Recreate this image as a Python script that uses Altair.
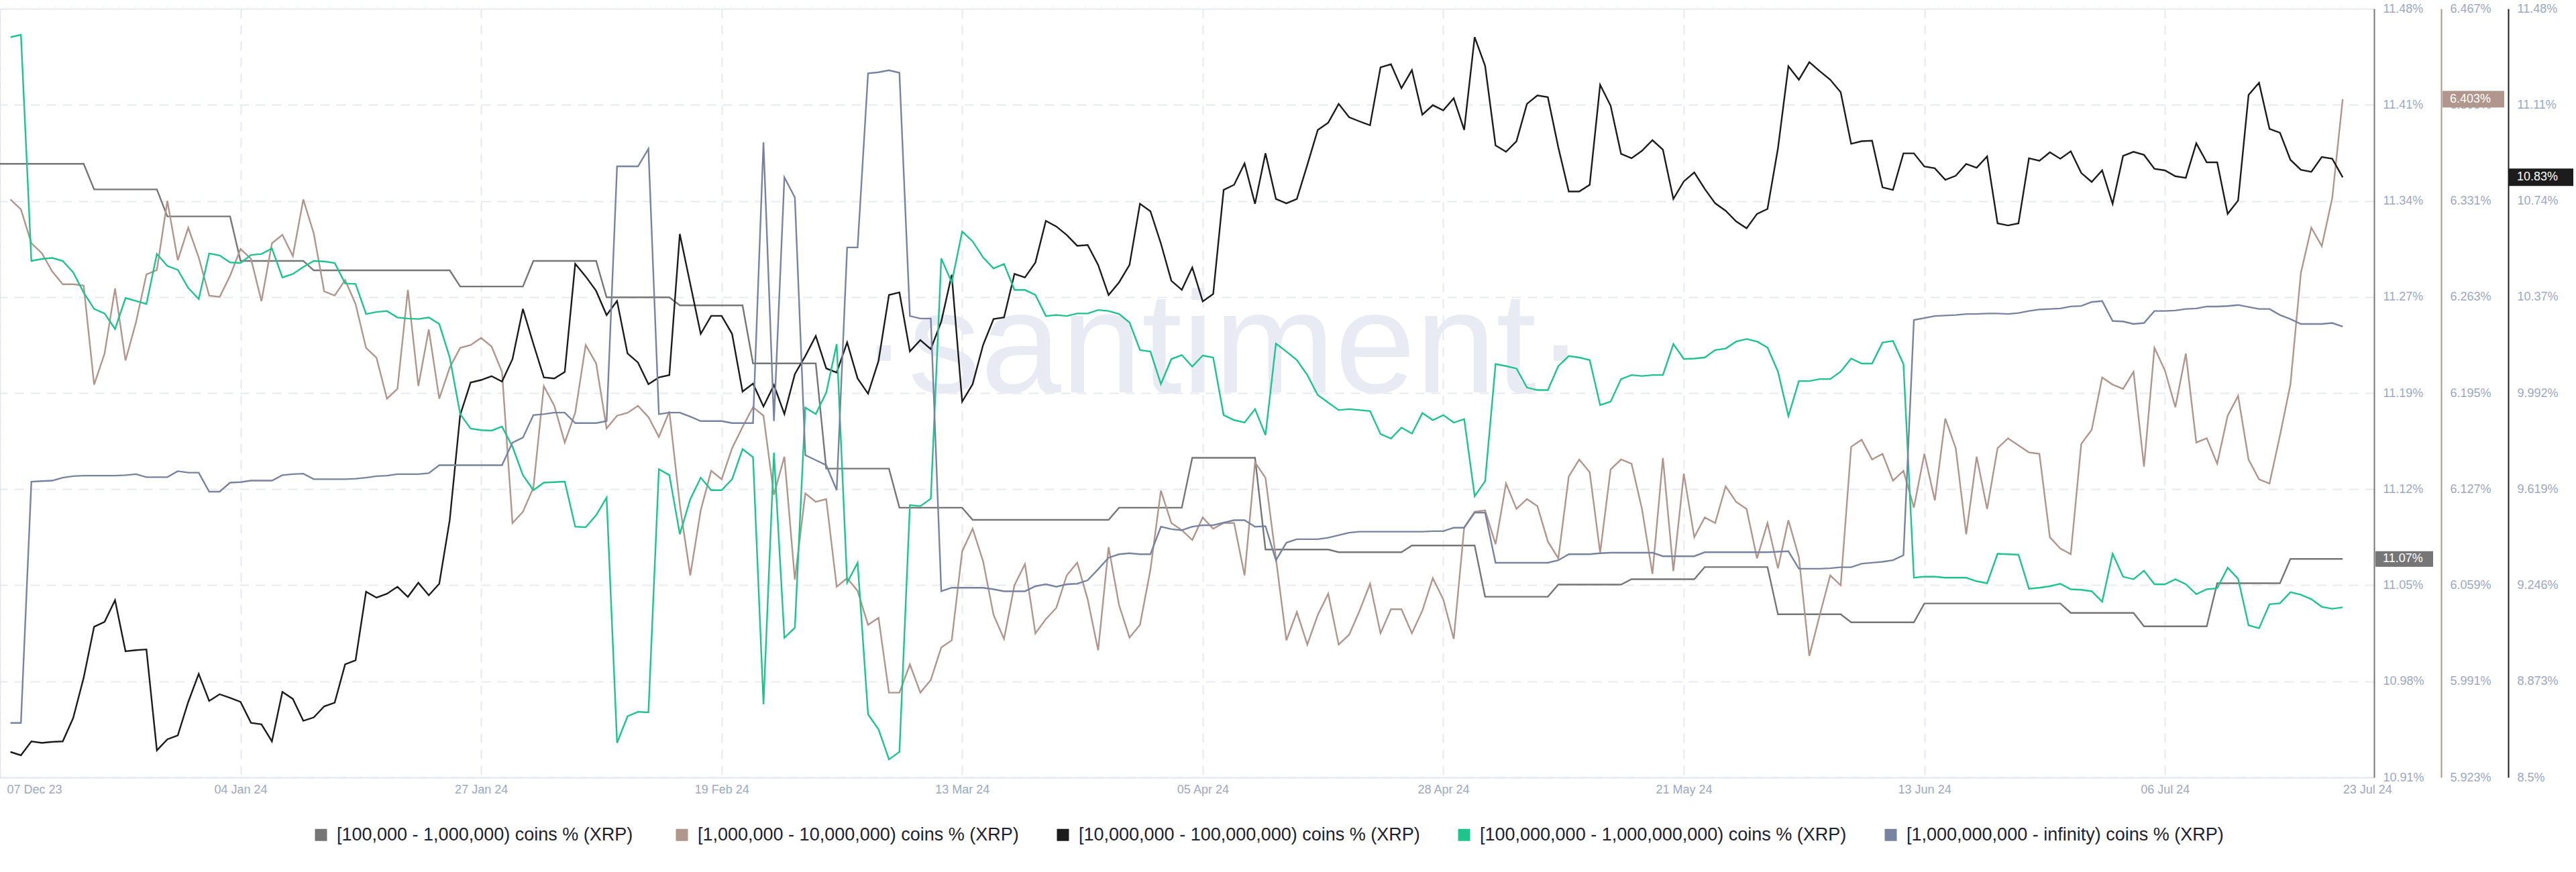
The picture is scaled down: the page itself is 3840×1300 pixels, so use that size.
import altair as alt
import pandas as pd

# ---------------- data ----------------
names = [
    "[100,000  - 1,000,000) coins % (XRP)",
    "[1,000,000 - 10,000,000) coins % (XRP)",
    "[10,000,000 - 100,000,000) coins % (XRP)",
    "[100,000,000 - 1,000,000,000) coins % (XRP)",
    "[1,000,000,000 - infinity) coins % (XRP)",
]
colors = ["#767676", "#b0968c", "#1c1c1c", "#1fc48c", "#77839f"]

dates = [d.strftime("%Y-%m-%d") for d in pd.date_range("2023-12-13", periods=224)]
grey_dates = [d.strftime("%Y-%m-%d") for d in pd.date_range("2023-12-12", periods=225)]

grey_vals = [
    11.364, 11.364, 11.364, 11.364, 11.364, 11.364, 11.364, 11.364, 11.364,
    11.345, 11.345, 11.345, 11.345, 11.345, 11.345, 11.345,
    11.325, 11.325, 11.325, 11.325, 11.325, 11.325, 11.325,
    11.292, 11.292, 11.292, 11.292, 11.292, 11.292, 11.292,
    11.285, 11.285, 11.285, 11.285, 11.285, 11.285, 11.285, 11.285, 11.285, 11.285, 11.285, 11.285, 11.285, 11.285,
    11.273, 11.273, 11.273, 11.273, 11.273, 11.273, 11.273,
    11.292, 11.292, 11.292, 11.292, 11.292, 11.292, 11.292,
    11.265, 11.265, 11.265, 11.265, 11.265, 11.265, 11.265,
    11.259, 11.259, 11.259, 11.259, 11.259, 11.259, 11.259,
    11.216, 11.216, 11.216, 11.216, 11.216, 11.216, 11.216,
    11.138, 11.138, 11.138, 11.138, 11.138, 11.138, 11.138,
    11.109, 11.109, 11.109, 11.109, 11.109, 11.109, 11.109,
    11.100, 11.100, 11.100, 11.100, 11.100, 11.100, 11.100, 11.100, 11.100, 11.100, 11.100, 11.100, 11.100, 11.100,
    11.109, 11.109, 11.109, 11.109, 11.109, 11.109, 11.109,
    11.146, 11.146, 11.146, 11.146, 11.146, 11.146, 11.146,
    11.078, 11.078, 11.078, 11.078, 11.078, 11.078, 11.078,
    11.076, 11.076, 11.076, 11.076, 11.076, 11.076, 11.076,
    11.081, 11.081, 11.081, 11.081, 11.081, 11.081, 11.081,
    11.043, 11.043, 11.043, 11.043, 11.043, 11.043, 11.043,
    11.052, 11.052, 11.052, 11.052, 11.052, 11.052, 11.052,
    11.056, 11.056, 11.056, 11.056, 11.056, 11.056, 11.056,
    11.065, 11.065, 11.065, 11.065, 11.065, 11.065, 11.065,
    11.030, 11.030, 11.030, 11.030, 11.030, 11.030, 11.030,
    11.024, 11.024, 11.024, 11.024, 11.024, 11.024, 11.024,
    11.038, 11.038, 11.038, 11.038, 11.038, 11.038, 11.038, 11.038, 11.038, 11.038, 11.038, 11.038, 11.038, 11.038,
    11.031, 11.031, 11.031, 11.031, 11.031, 11.031, 11.031,
    11.021, 11.021, 11.021, 11.021, 11.021, 11.021, 11.021,
    11.053, 11.053, 11.053, 11.053, 11.053, 11.053, 11.053,
    11.071, 11.071, 11.071, 11.071, 11.071, 11.071,
]

brown_vals = [
    6.332, 6.325, 6.301, 6.294, 6.281, 6.272, 6.272, 6.271, 6.201, 6.223, 6.269, 6.218, 6.245, 6.279, 6.282,
    6.331, 6.289, 6.312, 6.291, 6.264, 6.263, 6.278, 6.297, 6.290, 6.260, 6.301, 6.307, 6.292, 6.332, 6.308,
    6.267, 6.264, 6.275, 6.258, 6.227, 6.220, 6.191, 6.198,
    6.268, 6.200, 6.240, 6.191, 6.213, 6.227, 6.229, 6.234, 6.228, 6.210, 6.103, 6.111, 6.128, 6.200, 6.186,
    6.160, 6.181, 6.229, 6.216, 6.170, 6.179, 6.181, 6.186, 6.178, 6.164, 6.182, 6.116, 6.066, 6.112, 6.140,
    6.134, 6.156, 6.171, 6.185, 6.179, 6.123, 6.150,
    6.063, 6.124, 6.118, 6.120, 6.058, 6.064, 6.055, 6.031, 6.036, 5.983, 5.983, 6.003, 5.983, 5.992, 6.015,
    6.020, 6.083, 6.099, 6.076, 6.038, 6.021, 6.059, 6.074, 6.025, 6.035, 6.043, 6.066, 6.075, 6.049, 6.013,
    6.086, 6.045, 6.022, 6.031, 6.070, 6.126, 6.103,
    6.098, 6.091, 6.107, 6.099, 6.103, 6.103, 6.066, 6.146, 6.135, 6.078, 6.020, 6.040, 6.017, 6.038, 6.053,
    6.017, 6.024, 6.041, 6.060, 6.025, 6.042, 6.042, 6.025, 6.041, 6.064, 6.049, 6.021, 6.100, 6.111, 6.112,
    6.088, 6.131, 6.113, 6.120, 6.115, 6.090, 6.078,
    6.136, 6.148, 6.139, 6.082, 6.141, 6.148, 6.145, 6.113, 6.067, 6.149, 6.069, 6.138, 6.093, 6.107, 6.103,
    6.129, 6.118, 6.113, 6.078, 6.103, 6.071, 6.105, 6.079, 6.009, 6.038, 6.066, 6.059, 6.157, 6.162, 6.148,
    6.152, 6.133, 6.140, 6.114, 6.152, 6.119, 6.177,
    6.156, 6.095, 6.150, 6.113, 6.156, 6.163, 6.158, 6.153, 6.152, 6.093, 6.085, 6.081, 6.159, 6.169, 6.206,
    6.201, 6.198, 6.210, 6.143, 6.227, 6.211, 6.185, 6.223, 6.160, 6.163, 6.145, 6.179, 6.193, 6.148, 6.134,
    6.131, 6.165, 6.201, 6.280, 6.312, 6.299, 6.333, 6.403,
]

black_vals = [
    8.599, 8.586, 8.640, 8.634, 8.638, 8.640, 8.731, 8.887, 9.085, 9.104, 9.188, 8.990, 8.994, 8.997, 8.605,
    8.648, 8.663, 8.793, 8.902, 8.797, 8.823, 8.809, 8.793, 8.712, 8.706, 8.640, 8.832, 8.805, 8.720, 8.733,
    8.776, 8.790, 8.939, 8.955, 9.221, 9.198, 9.213, 9.240,
    9.201, 9.256, 9.207, 9.252, 9.499, 9.907, 10.033, 10.043, 10.058, 10.037, 10.124, 10.319, 10.183, 10.053,
    10.049, 10.074, 10.494, 10.445, 10.389, 10.295, 10.350, 10.146, 10.111, 10.027, 10.053, 10.062, 10.610,
    10.416, 10.222, 10.292, 10.292, 10.222, 9.998, 10.029, 9.940, 10.023, 9.911,
    10.066, 10.136, 10.214, 10.088, 10.072, 10.189, 10.049, 9.990, 10.117, 10.373, 10.383, 10.154, 10.198,
    10.163, 10.270, 10.451, 9.959, 10.027, 10.179, 10.280, 10.286, 10.455, 10.441, 10.499, 10.661, 10.639,
    10.606, 10.564, 10.567, 10.490, 10.373, 10.422, 10.490, 10.727, 10.698, 10.573, 10.428,
    10.393, 10.480, 10.348, 10.377, 10.781, 10.801, 10.884, 10.727, 10.923, 10.746, 10.729, 10.746, 10.878,
    11.014, 11.042, 11.115, 11.063, 11.047, 11.032, 11.257, 11.269, 11.176, 11.246, 11.073, 11.110, 11.090,
    11.137, 11.014, 11.374, 11.263, 10.954, 10.929, 10.970, 11.115, 11.148, 11.141, 10.946,
    10.775, 10.775, 10.801, 11.189, 11.108, 10.921, 10.904, 10.933, 10.974, 10.937, 10.746, 10.814, 10.849,
    10.785, 10.729, 10.700, 10.659, 10.632, 10.688, 10.707, 10.942, 11.261, 11.209, 11.277, 11.242, 11.209,
    11.160, 10.960, 10.970, 10.972, 10.791, 10.781, 10.923, 10.923, 10.872, 10.865, 10.820,
    10.836, 10.882, 10.867, 10.911, 10.651, 10.643, 10.651, 10.904, 10.894, 10.927, 10.902, 10.931, 10.847,
    10.812, 10.857, 10.727, 10.913, 10.929, 10.917, 10.863, 10.857, 10.834, 10.828, 10.962, 10.888, 10.888,
    10.688, 10.740, 11.150, 11.197, 11.018, 11.003, 10.898, 10.859, 10.851, 10.909, 10.902, 10.830,
]

green_vals = [
    19.543, 19.548, 19.096, 19.100, 19.102, 19.096, 19.073, 19.033, 19.000, 18.991, 18.960, 19.022, 19.016,
    19.010, 19.110, 19.086, 19.078, 19.042, 19.020, 19.111, 19.107, 19.093, 19.092, 19.108, 19.110, 19.121,
    19.063, 19.070, 19.084, 19.096, 19.095, 19.092, 19.051, 19.050, 18.990, 18.994, 18.996, 18.983,
    18.981, 18.980, 18.983, 18.970, 18.903, 18.790, 18.761, 18.758, 18.757, 18.765, 18.725, 18.668, 18.638,
    18.653, 18.654, 18.655, 18.565, 18.564, 18.588, 18.623, 18.133, 18.186, 18.195, 18.194, 18.680, 18.668,
    18.550, 18.620, 18.663, 18.638, 18.638, 18.660, 18.720, 18.704, 18.210, 18.713, 18.343,
    18.363, 18.803, 18.790, 18.833, 18.930, 18.453, 18.493, 18.190, 18.160, 18.100, 18.115, 18.608, 18.606,
    18.621, 19.101, 19.053, 19.155, 19.135, 19.103, 19.081, 19.090, 19.038, 19.038, 19.028, 18.986, 18.988,
    18.986, 18.991, 18.991, 18.998, 18.996, 18.990, 18.973, 18.918, 18.915, 18.850, 18.900,
    18.908, 18.885, 18.907, 18.903, 18.788, 18.778, 18.773, 18.800, 18.748, 18.931, 18.915, 18.898, 18.868,
    18.828, 18.813, 18.798, 18.800, 18.798, 18.796, 18.750, 18.741, 18.763, 18.751, 18.792, 18.778, 18.788,
    18.773, 18.780, 18.626, 18.656, 18.890, 18.886, 18.881, 18.843, 18.838, 18.838, 18.886,
    18.906, 18.903, 18.898, 18.808, 18.815, 18.860, 18.868, 18.866, 18.868, 18.868, 18.930, 18.900, 18.901,
    18.903, 18.918, 18.921, 18.935, 18.940, 18.935, 18.923, 18.875, 18.786, 18.856, 18.856, 18.860, 18.860,
    18.875, 18.901, 18.891, 18.891, 18.933, 18.936, 18.890, 18.463, 18.465, 18.465, 18.463,
    18.463, 18.463, 18.456, 18.452, 18.511, 18.510, 18.509, 18.441, 18.443, 18.446, 18.451, 18.440, 18.439,
    18.436, 18.415, 18.511, 18.465, 18.460, 18.477, 18.450, 18.450, 18.460, 18.450, 18.430, 18.440, 18.442,
    18.483, 18.461, 18.368, 18.362, 18.410, 18.412, 18.434, 18.429, 18.420, 18.405, 18.401, 18.404,
]

slate_vals = [
    60.573, 60.573, 61.055, 61.056, 61.057, 61.063, 61.066, 61.067, 61.067, 61.067, 61.067, 61.068, 61.070,
    61.064, 61.064, 61.064, 61.076, 61.073, 61.073, 61.035, 61.035, 61.053, 61.054, 61.057, 61.057, 61.057,
    61.068, 61.070, 61.071, 61.060, 61.060, 61.060, 61.060, 61.061, 61.063, 61.066, 61.067, 61.070,
    61.070, 61.070, 61.072, 61.088, 61.088, 61.088, 61.088, 61.088, 61.088, 61.088, 61.133, 61.143, 61.188,
    61.190, 61.193, 61.193, 61.172, 61.172, 61.172, 61.176, 61.685, 61.685, 61.685, 61.720, 61.190, 61.193,
    61.193, 61.185, 61.176, 61.176, 61.176, 61.172, 61.172, 61.172, 61.733, 61.176, 61.663,
    61.623, 61.108, 61.098, 61.088, 61.038, 61.523, 61.523, 61.871, 61.873, 61.877, 61.872, 61.386, 61.381,
    61.381, 60.836, 60.843, 60.843, 60.843, 60.843, 60.840, 60.836, 60.836, 60.836, 60.846, 60.850, 60.845,
    60.850, 60.851, 60.858, 60.880, 60.903, 60.910, 60.912, 60.910, 60.910, 60.965, 60.960,
    60.958, 60.965, 60.968, 60.968, 60.973, 60.978, 60.978, 60.965, 60.966, 60.898, 60.933, 60.940, 60.940,
    60.940, 60.943, 60.948, 60.953, 60.955, 60.955, 60.955, 60.955, 60.955, 60.955, 60.955, 60.956, 60.956,
    60.963, 60.963, 60.993, 60.993, 60.893, 60.893, 60.893, 60.893, 60.893, 60.893, 60.898,
    60.910, 60.910, 60.910, 60.912, 60.913, 60.913, 60.913, 60.913, 60.913, 60.906, 60.906, 60.906, 60.906,
    60.914, 60.914, 60.914, 60.914, 60.914, 60.914, 60.914, 60.915, 60.916, 60.881, 60.881, 60.881, 60.882,
    60.884, 60.884, 60.891, 60.893, 60.895, 60.898, 60.908, 61.378, 61.382, 61.386, 61.387,
    61.388, 61.390, 61.390, 61.391, 61.391, 61.390, 61.392, 61.396, 61.399, 61.400, 61.401, 61.405, 61.406,
    61.414, 61.416, 61.376, 61.375, 61.370, 61.372, 61.396, 61.396, 61.397, 61.400, 61.401, 61.405, 61.405,
    61.406, 61.408, 61.404, 61.400, 61.400, 61.388, 61.380, 61.370, 61.370, 61.370, 61.372, 61.365,
]

# axis domains / tick labels
grey_domain = [10.909, 11.479]
brown_domain = [5.923, 6.467]
black_domain = [8.5, 11.4845]
green_domain = [18.064, 19.600]
slate_domain = [60.464, 62.000]
x_first_label = "07 Dec 23"

# ---------------- layout ----------------
W, H = 3539, 1146
LABEL_C = "#9ca8c3"
GRID_C = "#e7eaf3"
FONT = "Liberation Sans"

xscale = alt.Scale(
    type="utc",
    domain=[alt.DateTime(year=2023, month=12, date=12, utc=True),
            alt.DateTime(year=2024, month=7, date=26, utc=True)],
)
x_ticks = [
    alt.DateTime(year=2023, month=12, date=12, utc=True),
    alt.DateTime(year=2024, month=1, date=4, utc=True),
    alt.DateTime(year=2024, month=1, date=27, utc=True),
    alt.DateTime(year=2024, month=2, date=19, utc=True),
    alt.DateTime(year=2024, month=3, date=13, utc=True),
    alt.DateTime(year=2024, month=4, date=5, utc=True),
    alt.DateTime(year=2024, month=4, date=28, utc=True),
    alt.DateTime(year=2024, month=5, date=21, utc=True),
    alt.DateTime(year=2024, month=6, date=13, utc=True),
    alt.DateTime(year=2024, month=7, date=6, utc=True),
    alt.DateTime(year=2024, month=7, date=23, utc=True),
]
FIRST_T = 1702400000000
LAST_T = 1721600000000
xaxis = alt.Axis(
    values=x_ticks,
    labelExpr=f"datum.value < {FIRST_T} ? '{x_first_label}' : utcFormat(datum.value, '%d %b %y')",
    labelAlign={"condition": {"test": f"datum.value < {FIRST_T} || datum.value > {LAST_T}", "value": "left"},
                "value": "center"},
    labelOffset={"condition": {"test": f"datum.value < {FIRST_T}", "value": 10}, "value": 0},
    gridOpacity={"condition": {"test": f"datum.value > {LAST_T}", "value": 0}, "value": 1},
    grid=True, gridColor=GRID_C, gridDash=[14, 10], gridWidth=2,
    ticks=False, domainColor="#e3e7f1", domainWidth=2,
    labelColor=LABEL_C, labelFontSize=18, labelFont=FONT, labelPadding=9,
    labelBaseline="top", title=None,
)


def y_axis(color, values, fmt, offset, grid):
    return alt.Axis(
        orient="right", offset=offset, values=values,
        labelExpr=f"format(datum.value, '{fmt}') + '%'",
        domainColor=color, domainWidth=2, ticks=False,
        grid=grid, gridColor=GRID_C, gridDash=[14, 10], gridWidth=2,
        labelColor=LABEL_C, labelFontSize=18, labelFont=FONT, labelPadding=13,
        labelAlign="left", labelBaseline="middle", title=None,
    )


def ticks_for(domain):
    step = (domain[1] - domain[0]) / 8
    return [domain[0] + k * step for k in range(9)]


color_scale = alt.Scale(domain=names, range=colors)


def series_layer(k, ds, vals, domain, axis, box=None):
    df = pd.DataFrame({"date": ds, "value": vals, "series": names[k]})
    yenc = alt.Y("value:Q", scale=alt.Scale(domain=domain, zero=False, nice=False), axis=axis)
    line = alt.Chart(df).mark_line(strokeWidth=2.4, color=colors[k]).encode(
        x=alt.X("date:T", scale=xscale, axis=xaxis),
        y=yenc,
    )
    if box is None:
        return line
    cx, bw, tx = box
    last = df.tail(1)
    rect = alt.Chart(last).mark_point(
        shape="M-1,-0.27L1,-0.27L1,0.27L-1,0.27Z", filled=True, opacity=1,
        size=bw * bw, color=colors[k], strokeWidth=0,
    ).encode(x=alt.value(cx), y=yenc)
    txt = alt.Chart(last).transform_calculate(
        lbl="format(datum.value, '.4~r') + '%'"
    ).mark_text(
        align="left", baseline="middle", color="white", fontSize=18, font=FONT,
    ).encode(x=alt.value(tx), y=yenc, text="lbl:N")
    return alt.layer(line, rect, txt)


grey = series_layer(0, grey_dates, grey_vals, grey_domain,
                    y_axis(colors[0], ticks_for(grey_domain), ".2f", 0, True),
                    box=(3584, 86, 3552))
brown = series_layer(1, dates, brown_vals, brown_domain,
                     y_axis(colors[1], ticks_for(brown_domain), ".3f", 100, False),
                     box=(3687, 92, 3652))
black = series_layer(2, dates, black_vals, black_domain,
                     y_axis(colors[2], ticks_for(black_domain), ".4~r", 200, False),
                     box=(3788, 96, 3752))
green = series_layer(3, dates, green_vals, green_domain, None)
slate = series_layer(4, dates, slate_vals, slate_domain, None)

watermark = alt.Chart(pd.DataFrame({"t": ["\u00b7santiment\u00b7"]})).mark_text(
    align="center", baseline="alphabetic", fontSize=216, font=FONT, color="#e8ebf4",
).encode(x=alt.value(1822), y=alt.value(572), text="t:N")

legend_layer = alt.Chart(pd.DataFrame({"series": names})).transform_filter("false").mark_square(
    filled=True, opacity=1
).encode(
    color=alt.Color(
        "series:N", scale=color_scale,
        legend=alt.Legend(
            orient="none", legendX=465, legendY=1218, direction="horizontal", columns=5,
            symbolType="square", symbolSize=324, symbolStrokeWidth=0, symbolOpacity=1,
            labelFontSize=27, labelFont=FONT, labelColor="#1d2233", labelLimit=2000,
            columnPadding=52, labelOffset=10, title=None,
        ),
    )
)

chart = alt.layer(
    watermark, grey, brown, black, green, slate, legend_layer
).resolve_scale(y="independent").properties(
    width=W, height=H,
    autosize=alt.AutoSizeParams(type="none"),
    padding={"left": 0, "top": 13, "right": 3840 - W, "bottom": 1300 - 13 - H},
).configure_view(stroke=None).configure(background="white")

chart.save("out.html", embed_options={"renderer": "svg", "actions": False})
